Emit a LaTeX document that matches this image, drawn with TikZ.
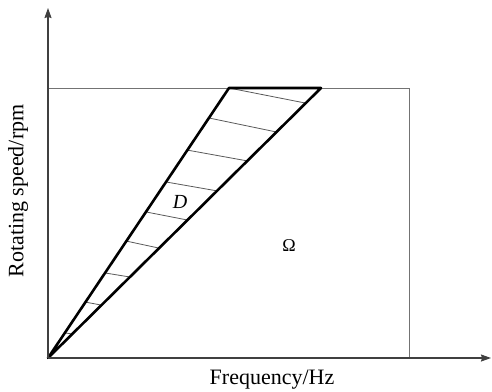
\documentclass[tikz,border=0pt]{standalone}
\usepackage{fontspec}
\setmainfont{Liberation Serif}
\usetikzlibrary{calc,arrows.meta}
\begin{document}
\begin{tikzpicture}[x=1pt,y=-1pt,
  axis/.style={draw=black!75,line width=1.2pt,-{Stealth[length=10pt,width=7pt,inset=1pt]}},
  frame/.style={draw=black!55,line width=0.9pt},
  region/.style={draw=black,line width=2.6pt,line join=round},
  hatch/.style={draw=black!65,line width=0.8pt},
  lbl/.style={font=\fontsize{22}{26}\selectfont,inner sep=0pt}]
\useasboundingbox (0,0) rectangle (492,391);
\coordinate (O) at (48,358);
\coordinate (ytop) at (48,8);
\coordinate (xend) at (491,358);
\coordinate (A) at (229,88);
\coordinate (B) at (321,88);
\coordinate (R1) at (48,88);
\coordinate (R2) at (409,358);
\draw[frame] (R1) rectangle (R2);
\foreach \a/\b in {1/0.944,0.889/0.837,0.770/0.730,0.652/0.619,0.541/0.511,0.433/0.407,0.315/0.300,0.207/0.196,0.093/0.089}
  \draw[hatch] ($(O)!\a!(A)$) -- ($(O)!\b!(B)$);
\draw[region] (O) -- (A) -- (B) -- cycle;
\draw[axis] (O) -- (ytop);
\draw[axis] (O) -- (xend);
\node[lbl] (xl) at (272,380) {Frequency/Hz};
\node[lbl,rotate=90] (yl) at (18,191) {Rotating speed/rpm};
\node[lbl,font=\fontsize{20}{24}\selectfont\itshape] (D) at (180,202) {D};
\node[lbl,font=\fontsize{18}{21}\selectfont] (Om) at (289,246) {Ω};
\end{tikzpicture}
\end{document}
